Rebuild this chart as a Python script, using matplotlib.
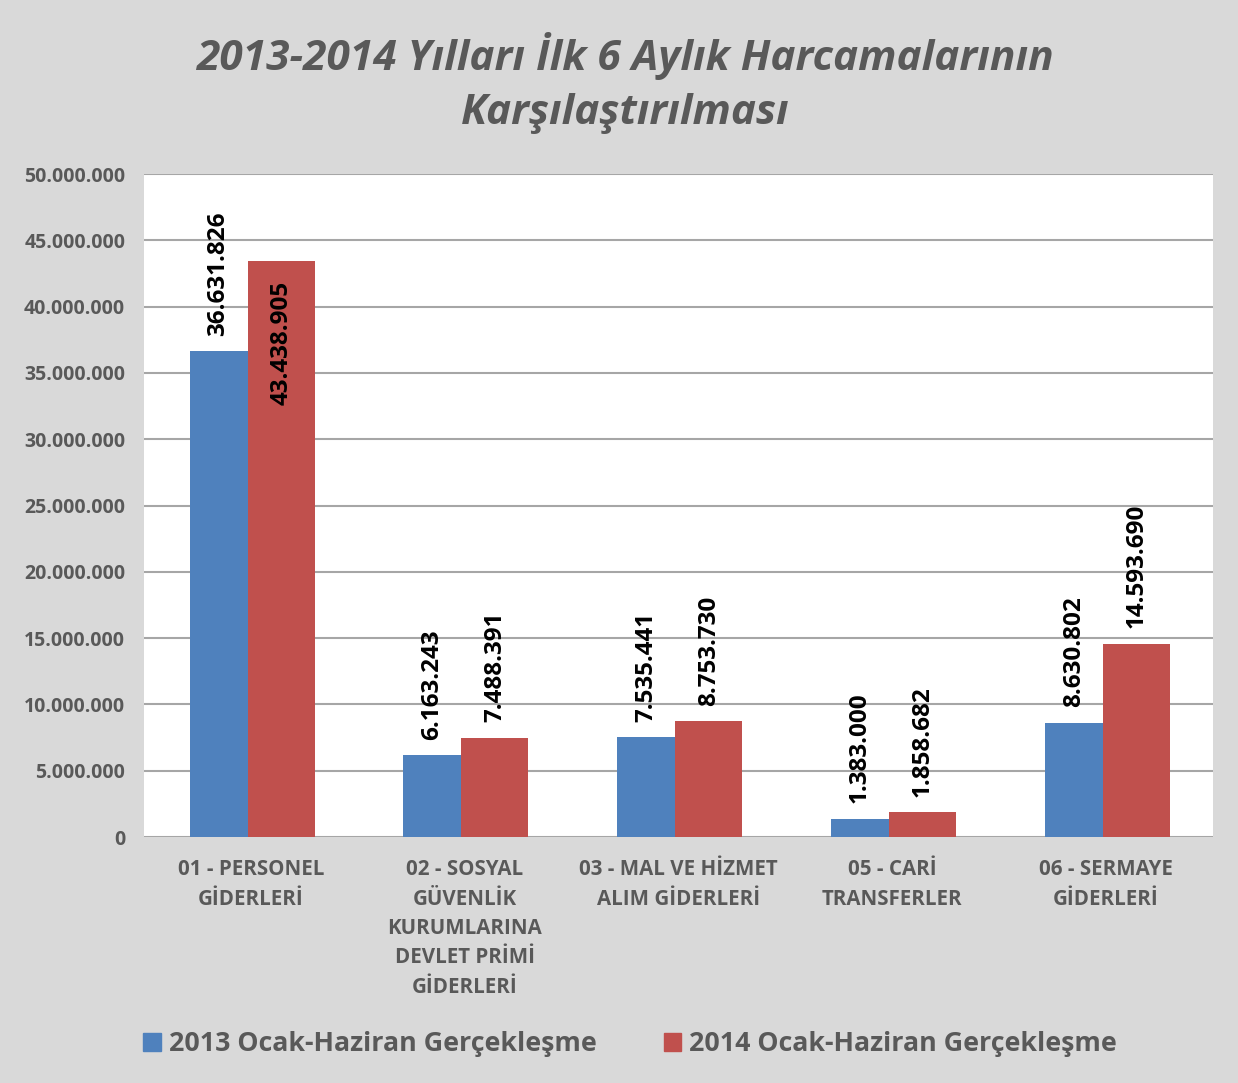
import matplotlib
matplotlib.use("Agg")
import matplotlib.pyplot as plt
from matplotlib.patches import Patch
from matplotlib.ticker import FuncFormatter
import numpy as np

plt.rcParams['font.family'] = ['Open Sans', 'DejaVu Sans']

categories = ["01 - PERSONEL\nGİDERLERİ",
              "02 - SOSYAL\nGÜVENLİK\nKURUMLARINA\nDEVLET PRİMİ\nGİDERLERİ",
              "03 - MAL VE HİZMET\nALIM GİDERLERİ",
              "05 - CARİ\nTRANSFERLER",
              "06 - SERMAYE\nGİDERLERİ"]
values_2013 = [36631826, 6163243, 7535441, 1383000, 8630802]
values_2014 = [43438905, 7488391, 8753730, 1858682, 14593690]
series_names = ["2013 Ocak-Haziran Gerçekleşme", "2014 Ocak-Haziran Gerçekleşme"]
title = "2013-2014 Yılları İlk 6 Aylık Harcamalarının\nKarşılaştırılması"

blue = "#4F81BD"
red = "#C0504D"
bg = "#D9D9D9"
textgray = "#595959"

def fmt(v):
    return f"{int(v):,}".replace(",", ".")

fig = plt.figure(figsize=(12.38, 10.83), dpi=100, facecolor=bg)
ax = fig.add_axes([0.1163, 0.2271, 0.8635, 0.6122])
ax.set_facecolor("white")

x = np.arange(len(categories))
wb, wr = 0.272, 0.313
ax.bar(x - wb - 0.015, values_2013, width=wb, align='edge', color=blue, zorder=3)
ax.bar(x - 0.015, values_2014, width=wr, align='edge', color=red, zorder=3)

ax.set_xlim(-0.5, len(categories) - 0.5)
ax.set_ylim(0, 50000000)
ax.set_yticks(np.arange(0, 50000001, 5000000))
ax.yaxis.set_major_formatter(FuncFormatter(lambda v, p: fmt(v)))
ax.grid(axis='y', color="#A6A6A6", linewidth=1.5, zorder=0)
for s in ax.spines.values():
    s.set_visible(False)
ax.tick_params(axis='both', length=0)
ax.tick_params(axis='y', pad=13.5)
for lab in ax.get_yticklabels():
    lab.set_fontsize(14)
    lab.set_fontweight('bold')
    lab.set_color(textgray)
ax.set_xticks(x)
ax.set_xticklabels(categories, fontsize=14.8, fontweight='bold', color=textgray,
                   linespacing=1.52)
ax.tick_params(axis='x', pad=16)

lab_fs = 17.5
for i in range(len(categories)):
    ax.annotate(fmt(values_2013[i]), (x[i] - wb / 2 - 0.015, values_2013[i]),
                xytext=(0, 11), textcoords='offset points', rotation=90,
                ha='center', va='bottom', fontsize=lab_fs, fontweight='bold', color='black')
    v = values_2014[i]
    if v > 40000000:
        ax.annotate(fmt(v), (x[i] + wr / 2 - 0.015, v), xytext=(0, -14),
                    textcoords='offset points', rotation=90,
                    ha='center', va='top', fontsize=lab_fs, fontweight='bold', color='black')
    else:
        ax.annotate(fmt(v), (x[i] + wr / 2 - 0.015, v), xytext=(0, 11),
                    textcoords='offset points', rotation=90,
                    ha='center', va='bottom', fontsize=lab_fs, fontweight='bold', color='black')

fig.text(0.505, 0.923, title, ha='center', va='center', fontsize=30.5,
         fontweight='bold', style='italic', color=textgray, linespacing=1.42)

handles = [Patch(color=blue), Patch(color=red)]
leg = fig.legend(handles, series_names, loc='center', bbox_to_anchor=(0.509, 0.036),
                 ncol=2, frameon=False, fontsize=19.3, handlelength=0.65, handleheight=0.65,
                 handletextpad=0.3, columnspacing=2.5)
for t in leg.get_texts():
    t.set_fontweight('bold')
    t.set_color(textgray)

fig.savefig("out.png", dpi=100, facecolor=bg)
